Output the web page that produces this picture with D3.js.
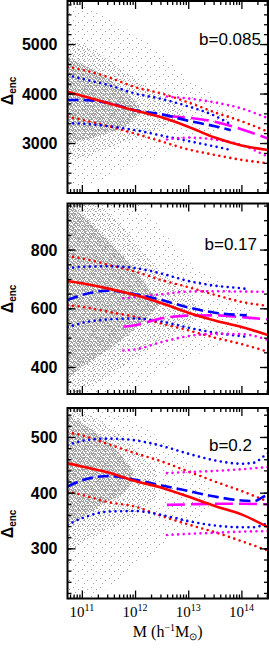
<!DOCTYPE html>
<html>
<head>
<meta charset="utf-8">
<script src="https://cdn.jsdelivr.net/npm/d3@7"></script>
<style>
  body { margin: 0; background: #fff; }
  svg { display: block; }
</style>
</head>
<body>
<svg id="chart"></svg>
<script>
(function(){
    "use strict";

    // ---- data ----
    // masses are log10(M / h^-1 Msun)
    const massRed = [10.73, 11, 11.5, 12, 12.5, 13, 13.5, 14, 14.5];

    // b = 0.085
    const redMid1 = [4036, 3955, 3805, 3655, 3520, 3330, 3110, 2950, 2860];
    const redHi1  = [4540, 4480, 4330, 4130, 4000, 3820, 3620, 3440, 3230];
    const redLo1  = [3530, 3470, 3340, 3190, 3030, 2870, 2760, 2660, 2590];
    const massBlue1 = [10.73, 11, 11.5, 12, 12.5, 13, 13.5, 13.8];
    const blueMid1 = [3870, 3870, 3810, 3660, 3580, 3450, 3340, 3260];
    const blueHi1  = [4370, 4300, 4170, 4000, 3890, 3740, 3550, 3380];
    const blueLo1  = [3400, 3390, 3340, 3260, 3150, 3040, 2930, 2860];
    const massMag1 = [12.6, 13, 13.5, 14, 14.5];
    const magMid1 = [3540, 3510, 3430, 3280, 3090];
    const magHi1  = [3940, 3900, 3820, 3700, 3500];
    const magLo1  = [3070, 3110, 3070, 2960, 2720];

    // b = 0.17
    const redMid2 = [693, 685, 667, 645, 617, 585, 558, 536, 509];
    const redHi2  = [778, 770, 748, 725, 696, 672, 646, 622, 608];
    const redLo2  = [611, 605, 588, 571, 548, 525, 500, 478, 452];
    const massBlue2 = [10.73, 11, 11.5, 12, 12.5, 13, 13.5, 14, 14.1];
    const blueMid2 = [628, 645, 660, 648, 628, 603, 585, 577, 576];
    const blueHi2  = [736, 741, 743, 737, 718, 693, 677, 668, 666];
    const blueLo2  = [535, 550, 562, 565, 555, 534, 517, 505, 503];
    const massMag2 = [11.78, 12, 12.5, 13, 13.5, 14, 14.5];
    const magMid2 = [537, 542, 566, 575, 576, 570, 562];
    const magHi2  = [634, 638, 648, 657, 658, 657, 656];
    const magLo2  = [456, 460, 485, 505, 513, 512, 492];

    // b = 0.2
    const redMid3 = [453, 447, 436, 421, 409, 393, 376, 361, 338];
    const redHi3  = [509, 503, 487, 471, 456, 438, 420, 403, 384];
    const redLo3  = [402, 396, 383, 375, 358, 343, 329, 313, 296];
    const massBlue3 = [10.73, 11, 11.5, 12, 12.5, 13, 13.5, 14, 14.25, 14.4, 14.5];
    const blueMid3 = [411, 422, 430, 423, 413, 403, 393, 386, 385, 392, 396];
    const blueHi3  = [485, 493, 497, 494, 484, 470, 458, 452, 454, 464, 471];
    const blueLo3  = [342, 354, 366, 367, 360, 349, 341, 338, 338, 342, 346];
    const massMag3 = [12.6, 13, 13.5, 14, 14.5];
    const magMid3 = [378, 379, 380, 380, 379];
    const magHi3  = [435, 437, 439, 442, 446];
    const magLo3  = [324, 326, 328, 330, 331];

    // halo scatter, given as envelopes [logM, low, high] of three density levels
    const cloudOuter1 = [[10.73, 2100, 5850], [11, 2150, 5800], [11.5, 2300, 5500], [12, 2550, 5200], [12.5, 2800, 4800], [13, 3000, 4300], [13.5, 3200, 3950], [13.9, 3500, 3700]];
    const cloudMid1   = [[10.73, 2650, 5100], [11, 2700, 5000], [11.5, 2900, 4700], [12, 3100, 4300], [12.5, 3300, 3950], [12.9, 3550, 3700]];
    const cloudCore1  = [[10.73, 3000, 4750], [11, 3050, 4600], [11.5, 3200, 4300], [11.9, 3400, 3950], [12.1, 3600, 3700]];
    const cloudOuter2 = [[10.73, 300, 960], [11.5, 300, 960], [12, 330, 960], [12.5, 390, 870], [13, 430, 760], [13.5, 470, 700], [14, 530, 640], [14.2, 570, 600]];
    const cloudMid2   = [[10.73, 300, 960], [11, 320, 960], [11.5, 370, 930], [12, 430, 830], [12.5, 490, 720], [13, 540, 650], [13.2, 580, 610]];
    const cloudCore2  = [[10.73, 360, 960], [11, 400, 920], [11.5, 460, 830], [12, 530, 730], [12.3, 580, 660], [12.45, 610, 630]];
    const cloudOuter3 = [[10.73, 205, 555], [11, 205, 555], [11.5, 230, 550], [12, 270, 530], [12.5, 300, 495], [13, 340, 460], [13.4, 370, 420]];
    const cloudMid3   = [[10.73, 290, 555], [11, 310, 545], [11.5, 335, 520], [12, 360, 480], [12.4, 390, 440]];
    const cloudCore3  = [[10.73, 340, 540], [11, 355, 525], [11.5, 385, 490], [11.8, 400, 460], [11.95, 420, 440]];

    const xDomainLog = [10.73, 14.5];
    const xTickExp = [11, 12, 13, 14];
    const yDomains = [[1990, 5870], [308, 957], [210, 552]];
    const yTickLabels = [[3000, 4000, 5000], [400, 600, 800], [300, 400, 500]];
    const yMinorStep = [200, 50, 20];
    const bLabels = ["b=0.085", "b=0.17", "b=0.2"];

    // ---- layout ----
    const width = 269, height = 650;
    const left = 67.5, right = 268;
    const boxes = [[1, 193], [203.5, 394], [408, 598.5]];
    const bPos = [[261, 45], [257, 250], [252, 451]];
    const yTitleCenter = [91, 299, 524];

    const svg = d3.select("svg#chart")
        .attr("width", width)
        .attr("height", height);

    const x = d3.scaleLog()
        .domain(xDomainLog.map(v => Math.pow(10, v)))
        .range([left, right]);

    // dot patterns that stand in for the scatter of haloes
    const defs = svg.append("defs");
    const patterns = [
        {id: "dotsOuter", size: 9, dots: [[1, 2], [6, 4], [3, 7]]},
        {id: "dotsMid", size: 5, dots: [[0, 1], [3, 0], [2, 3], [4, 4]]},
        {id: "dotsCore", size: 4, dots: [[1, 0], [3, 1], [0, 2], [2, 3], [2, 1], [0, 3], [3, 2], [1, 1]]}
    ];
    patterns.forEach(p => {
        const pat = defs.append("pattern")
            .attr("id", p.id)
            .attr("patternUnits", "userSpaceOnUse")
            .attr("width", p.size)
            .attr("height", p.size);
        pat.selectAll("rect").data(p.dots).enter().append("rect")
            .attr("x", d => d[0]).attr("y", d => d[1])
            .attr("width", 1).attr("height", 1)
            .attr("fill", "#a4a4a4");
    });

    const panels = [
        {
            clouds: [cloudOuter1, cloudMid1, cloudCore1],
            curves: [
                {m: massRed, v: redHi1, c: "#ff0000", s: "dot"},
                {m: massRed, v: redLo1, c: "#ff0000", s: "dot"},
                {m: massBlue1, v: blueHi1, c: "#0000ff", s: "dot"},
                {m: massBlue1, v: blueLo1, c: "#0000ff", s: "dot"},
                {m: massMag1, v: magHi1, c: "#ff00ff", s: "dot"},
                {m: massMag1, v: magLo1, c: "#ff00ff", s: "dot"},
                {m: massMag1, v: magMid1, c: "#ff00ff", s: "longdash"},
                {m: massBlue1, v: blueMid1, c: "#0000ff", s: "dash"},
                {m: massRed, v: redMid1, c: "#ff0000", s: "solid"}
            ]
        },
        {
            clouds: [cloudOuter2, cloudMid2, cloudCore2],
            curves: [
                {m: massRed, v: redHi2, c: "#ff0000", s: "dot"},
                {m: massRed, v: redLo2, c: "#ff0000", s: "dot"},
                {m: massBlue2, v: blueHi2, c: "#0000ff", s: "dot"},
                {m: massBlue2, v: blueLo2, c: "#0000ff", s: "dot"},
                {m: massMag2, v: magHi2, c: "#ff00ff", s: "dot"},
                {m: massMag2, v: magLo2, c: "#ff00ff", s: "dot"},
                {m: massMag2, v: magMid2, c: "#ff00ff", s: "longdash"},
                {m: massBlue2, v: blueMid2, c: "#0000ff", s: "dash"},
                {m: massRed, v: redMid2, c: "#ff0000", s: "solid"}
            ]
        },
        {
            clouds: [cloudOuter3, cloudMid3, cloudCore3],
            curves: [
                {m: massRed, v: redHi3, c: "#ff0000", s: "dot"},
                {m: massRed, v: redLo3, c: "#ff0000", s: "dot"},
                {m: massBlue3, v: blueHi3, c: "#0000ff", s: "dot"},
                {m: massBlue3, v: blueLo3, c: "#0000ff", s: "dot"},
                {m: massMag3, v: magHi3, c: "#ff00ff", s: "dot"},
                {m: massMag3, v: magLo3, c: "#ff00ff", s: "dot"},
                {m: massMag3, v: magMid3, c: "#ff00ff", s: "longdash"},
                {m: massBlue3, v: blueMid3, c: "#0000ff", s: "dash"},
                {m: massRed, v: redMid3, c: "#ff0000", s: "solid"}
            ]
        }
    ];

    const dashes = {solid: null, dot: "0 5.6", dash: "11 5", longdash: "18 6"};

    // minor x ticks: 2..9 x 10^n inside the range
    const xMinor = [];
    d3.range(10, 15).forEach(n => {
        d3.range(2, 10).forEach(k => {
            const v = k * Math.pow(10, n);
            if (v > x.domain()[0] && v < x.domain()[1]) xMinor.push(v);
        });
    });
    const xMajor = xTickExp.map(e => Math.pow(10, e));

    panels.forEach((p, i) => {
        const [top, bottom] = boxes[i];
        const y = d3.scaleLinear().domain(yDomains[i]).range([bottom, top]);
        const g = svg.append("g");

        defs.append("clipPath").attr("id", "clip" + i)
            .append("rect")
            .attr("x", left).attr("y", top)
            .attr("width", right - left).attr("height", bottom - top);

        const body = g.append("g").attr("clip-path", `url(#clip${i})`);

        // scatter envelopes
        const area = d3.area()
            .x(d => x(Math.pow(10, d[0])))
            .y0(d => y(d[1]))
            .y1(d => y(d[2]))
            .curve(d3.curveMonotoneX);
        ["dotsOuter", "dotsMid", "dotsCore"].forEach((pid, k) => {
            body.append("path")
                .attr("d", area(p.clouds[k]))
                .attr("fill", `url(#${pid})`);
        });

        // model curves
        const line = d3.line()
            .x(d => x(Math.pow(10, d[0])))
            .y(d => y(d[1]))
            .curve(d3.curveMonotoneX);
        p.curves.forEach(c => {
            body.append("path")
                .attr("d", line(d3.zip(c.m, c.v)))
                .attr("fill", "none")
                .attr("stroke", c.c)
                .attr("stroke-width", 2.6)
                .attr("stroke-linecap", c.s === "dot" ? "round" : "butt")
                .attr("stroke-dasharray", dashes[c.s]);
        });

        // ticks on all four sides
        const yMinor = d3.range(Math.ceil(yDomains[i][0] / yMinorStep[i]) * yMinorStep[i], yDomains[i][1], yMinorStep[i]);
        const tickSets = [
            {axis: d3.axisBottom(x), pos: `translate(0,${bottom})`, vals: xMinor, len: -4},
            {axis: d3.axisBottom(x), pos: `translate(0,${bottom})`, vals: xMajor, len: -8},
            {axis: d3.axisTop(x), pos: `translate(0,${top})`, vals: xMinor, len: -4},
            {axis: d3.axisTop(x), pos: `translate(0,${top})`, vals: xMajor, len: -8},
            {axis: d3.axisLeft(y), pos: `translate(${left},0)`, vals: yMinor, len: -4},
            {axis: d3.axisLeft(y), pos: `translate(${left},0)`, vals: yTickLabels[i], len: -8},
            {axis: d3.axisRight(y), pos: `translate(${right},0)`, vals: yMinor, len: -4},
            {axis: d3.axisRight(y), pos: `translate(${right},0)`, vals: yTickLabels[i], len: -8}
        ];
        tickSets.forEach(t => {
            const a = g.append("g")
                .attr("transform", t.pos)
                .call(t.axis.tickValues(t.vals).tickSize(t.len).tickFormat(""));
            a.select(".domain").remove();
            a.selectAll("line").attr("stroke", "#000").attr("stroke-width", 1.3);
        });

        // frame
        g.append("rect")
            .attr("x", left).attr("y", top)
            .attr("width", right - left).attr("height", bottom - top)
            .attr("fill", "none")
            .attr("stroke", "#000")
            .attr("stroke-width", 2);

        // y tick labels
        g.selectAll("text.ylab")
            .data(yTickLabels[i])
            .enter().append("text")
            .attr("class", "ylab")
            .attr("x", 57.5)
            .attr("y", d => y(d) + 6)
            .attr("text-anchor", "end")
            .style("font", "bold 16px 'Liberation Sans', Arial, sans-serif")
            .text(d => d);

        // y title
        const yt = g.append("text")
            .attr("transform", `translate(12.5,${yTitleCenter[i]}) rotate(-90)`)
            .attr("text-anchor", "middle")
            .style("font", "bold 16px 'Liberation Sans', Arial, sans-serif");
        yt.append("tspan").text("\u0394");
        yt.append("tspan").attr("dy", 3).style("font-size", "10px").text("enc");

        // b label
        g.append("text")
            .attr("x", bPos[i][0]).attr("y", bPos[i][1])
            .attr("text-anchor", "end")
            .style("font", "17px 'Liberation Sans', Arial, sans-serif")
            .text(bLabels[i]);
    });

    // x tick labels under the last panel
    const xl = svg.selectAll("text.xlab")
        .data(xTickExp)
        .enter().append("text")
        .attr("class", "xlab")
        .attr("x", d => x(Math.pow(10, d)))
        .attr("y", 617)
        .attr("text-anchor", "middle")
        .style("font", "15px 'Liberation Serif', 'Times New Roman', serif");
    xl.append("tspan").text("10");
    xl.append("tspan").attr("dy", -6).style("font-size", "10px").text(d => d);

    // x title
    const xt = svg.append("text")
        .attr("x", (left + right) / 2)
        .attr("y", 637)
        .attr("text-anchor", "middle")
        .style("font", "16px 'Liberation Serif', 'Times New Roman', serif");
    xt.append("tspan").text("M (h");
    xt.append("tspan").attr("dy", -6).style("font-size", "10px").text("\u22121");
    xt.append("tspan").attr("dy", 6).text("M");
    xt.append("tspan").attr("dy", 3).style("font-size", "10px").text("\u2299");
    xt.append("tspan").attr("dy", -3).text(")");
})();
</script>
</body>
</html>
